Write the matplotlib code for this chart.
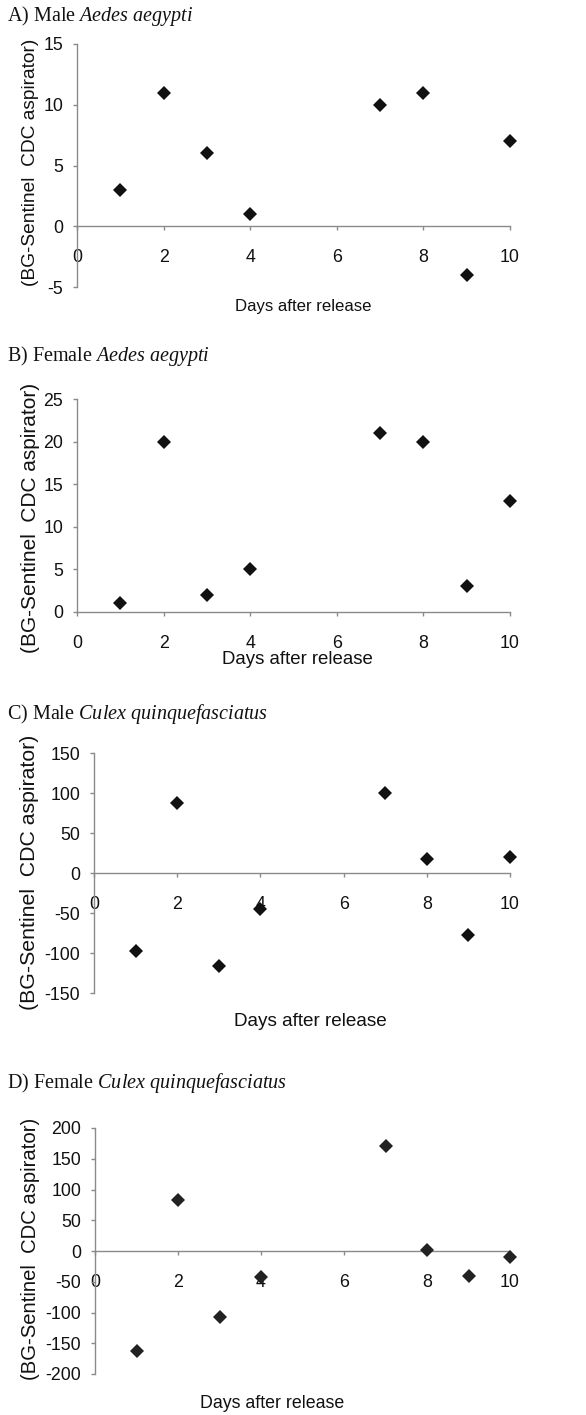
import matplotlib
matplotlib.use("Agg")
import matplotlib.pyplot as plt

plt.rcParams['font.family'] = ['Liberation Sans', 'DejaVu Sans']
plt.rcParams['mathtext.fontset'] = 'custom'
plt.rcParams['mathtext.rm'] = 'Liberation Serif'
plt.rcParams['mathtext.it'] = 'Liberation Serif:italic'
plt.rcParams['axes.unicode_minus'] = False

days = [1, 2, 3, 4, 7, 8, 9, 10]
male_aedes = [3, 11, 6, 1, 10, 11, -4, 7]
female_aedes = [1, 20, 2, 5, 21, 20, 3, 13]
male_culex = [-98, 88, -116, -45, 100, 17, -78, 20]
female_culex = [-162, 83, -107, -42, 170, 1, -40, -10]

titles = ["A) Male ", "B) Female ", "C) Male ", "D) Female "]
species = ["Aedes aegypti", "Aedes aegypti", "Culex quinquefasciatus", "Culex quinquefasciatus"]
ylabel = "(BG-Sentinel  CDC aspirator)"
xlabel = "Days after release"
series = [male_aedes, female_aedes, male_culex, female_culex]
ylims = [(-5, 15), (0, 25), (-150, 150), (-200, 200)]
ysteps = [5, 5, 50, 50]
xticks = [0, 2, 4, 6, 8, 10]

W, H = 586, 1415
fig = plt.figure(figsize=(W / 100, H / 100), dpi=100)

# pixel layout: left, right, top, bottom
boxes = [(77, 510, 44, 287), (77, 510, 399, 612), (94, 510, 753, 993), (95, 510, 1128, 1374)]
title_base = [21, 361, 719, 1088]
ylab_pos = [(31, 162, 13.8), (31, 518, 15.0), (30, 872, 15.3), (31, 1249, 14.6)]
xlab_pos = [(303, 306, 12.1), (297, 660, 13.4), (310, 1021, 13.6), (272, 1403, 12.8)]
mcolors = ['#111111', '#111111', '#111111', '#222222']

gray = '#8a8a8a'
for i in range(4):
    l, r, t, b = boxes[i]
    ax = fig.add_axes([l / W, 1 - b / H, (r - l) / W, (b - t) / H])
    ax.patch.set_alpha(0)
    ax.plot(days, series[i], linestyle='none', marker='D', markersize=7.2,
            color=mcolors[i], markeredgewidth=0, clip_on=False, zorder=5)
    lo, hi = ylims[i]
    ax.set_xlim(0, 10)
    ax.set_ylim(lo, hi)
    ax.set_xticks(xticks)
    ax.set_yticks(list(range(lo, hi + 1, ysteps[i])))
    for s in ['top', 'right']:
        ax.spines[s].set_visible(False)
    ax.spines['bottom'].set_position(('data', 0))
    for s in ['left', 'bottom']:
        ax.spines[s].set_color(gray)
        ax.spines[s].set_linewidth(1.0)
    ax.tick_params(axis='both', colors=gray, labelcolor='#111111', labelsize=12.8,
                   length=3, width=1.0, direction='out')
    ax.tick_params(axis='x', pad=13.5)
    ax.tick_params(axis='y', pad=7)

    fig.text(7 / W, 1 - title_base[i] / H,
             titles[i] + r"$\mathit{" + species[i].replace(' ', r'\ ') + "}$",
             family='Liberation Serif', fontsize=14.5, va='baseline', ha='left', color='#111111')
    yx, yy, ys = ylab_pos[i]
    fig.text(yx / W, 1 - yy / H, ylabel, rotation=90, ha='center', va='center',
             fontsize=ys, color='#111111')
    xx, xy, xs = xlab_pos[i]
    fig.text(xx / W, 1 - xy / H, xlabel, ha='center', va='center',
             fontsize=xs, color='#111111')

fig.savefig("out.png", dpi=100)
